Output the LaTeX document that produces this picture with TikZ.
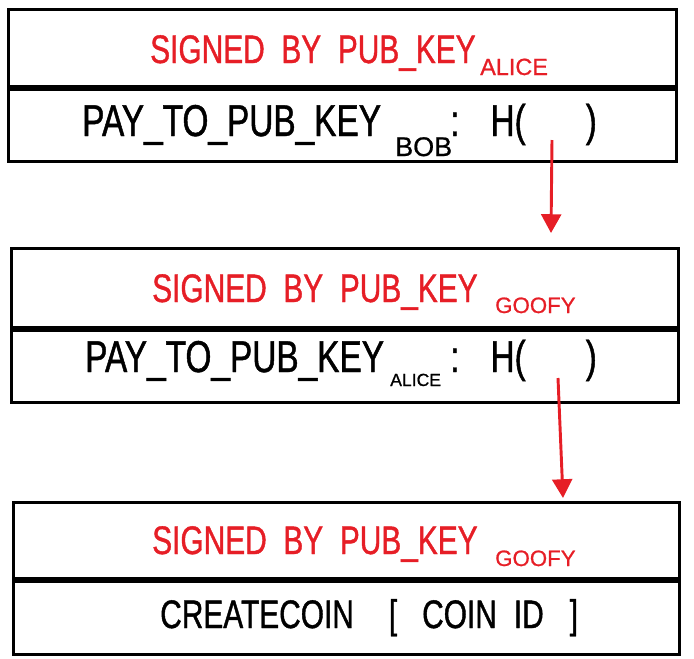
\documentclass[tikz,border=0pt]{standalone}
\usepackage{fontspec}
\usepackage{tikz}
\usetikzlibrary{arrows.meta}
\newfontfamily\handfont[FakeStretch=0.75, WordSpace=2, FakeBold=1]{Liberation Sans}
\newfontfamily\subfont[FakeBold=0.8]{Liberation Sans}
\definecolor{sigred}{RGB}{230,30,38}
\tikzset{
	box/.style={draw, rectangle, line width=2.5pt, anchor=north west, inner sep=0pt},
	sigtext/.style={text=sigred, anchor=base west, inner sep=0pt, font=\handfont\fontsize{34}{36}\selectfont},
	paytext/.style={text=black, anchor=base west, inner sep=0pt, font=\handfont\fontsize{38}{40}\selectfont},
	subtext/.style={anchor=base west, inner sep=0pt},
	link/.style={draw=sigred, line width=2.5pt, -{Triangle[width=17pt, length=16pt]}, sigred}
}

\begin{document}
\begin{tikzpicture}[x=0.03cm, y=-0.03cm]
				\useasboundingbox (0,0) rectangle (694,658);
				% first transaction
				\node[box, minimum width=20.04cm, minimum height=2.31cm] (sig1) at (7,8) {};
				\node[box, minimum width=20.04cm, minimum height=2.16cm] (pay1) at (sig1.south west) {};
				\node[sigtext] (sig1a) at (150,63) {SIGNED BY PUB\_KEY};
				\node[subtext, text=sigred, font=\subfont\fontsize{20}{22}\selectfont] (sig1b) at (480,75) {ALICE};
				\node[paytext] (pay1a) at (82,136) {PAY\_TO\_PUB\_KEY};
				\node[subtext, font=\subfont\fontsize{23}{25}\selectfont] (pay1b) at (395,156) {BOB};
				\node[paytext] (pay1c) at (450,136) {:\hspace{0.93cm}H(\hspace{1.8cm})};
				% second transaction
				\node[box, minimum width=20.01cm, minimum height=2.37cm] (sig2) at (10,247) {};
				\node[box, minimum width=20.01cm, minimum height=2.16cm] (pay2) at (sig2.south west) {};
				\node[sigtext] (sig2a) at (152,302) {SIGNED BY PUB\_KEY};
				\node[subtext, text=sigred, font=\subfont\fontsize{19}{21}\selectfont] (sig2b) at (495,313) {GOOFY};
				\node[paytext] (pay2a) at (85,372) {PAY\_TO\_PUB\_KEY};
				\node[subtext, font=\subfont\fontsize{15}{17}\selectfont] (pay2b) at (390,386) {ALICE};
				\node[paytext] (pay2c) at (450,372) {:\hspace{0.93cm}H(\hspace{1.8cm})};
				% third transaction
				\node[box, minimum width=19.98cm, minimum height=2.28cm] (sig3) at (12,501) {};
				\node[box, minimum width=19.98cm, minimum height=2.19cm] (pay3) at (sig3.south west) {};
				\node[sigtext] (sig3a) at (152,554) {SIGNED BY PUB\_KEY};
				\node[subtext, text=sigred, font=\subfont\fontsize{19}{21}\selectfont] (sig3b) at (495,566) {GOOFY};
				\node[paytext, font=\handfont\fontsize{34}{36}\selectfont] (pay3a) at (160,628) {CREATECOIN\hspace{1.05cm}[\hspace{0.75cm}COIN\hspace{0.51cm}ID\hspace{0.78cm}]};
				% hash pointers
				\coordinate (h1) at (552,140);
				\coordinate (t1) at (551,233);
				\coordinate (h2) at (558,378);
				\coordinate (t2) at (563,498);
				\draw[link] (h1) -- (t1);
				\draw[link] (h2) -- (t2);
\end{tikzpicture}
\end{document}
